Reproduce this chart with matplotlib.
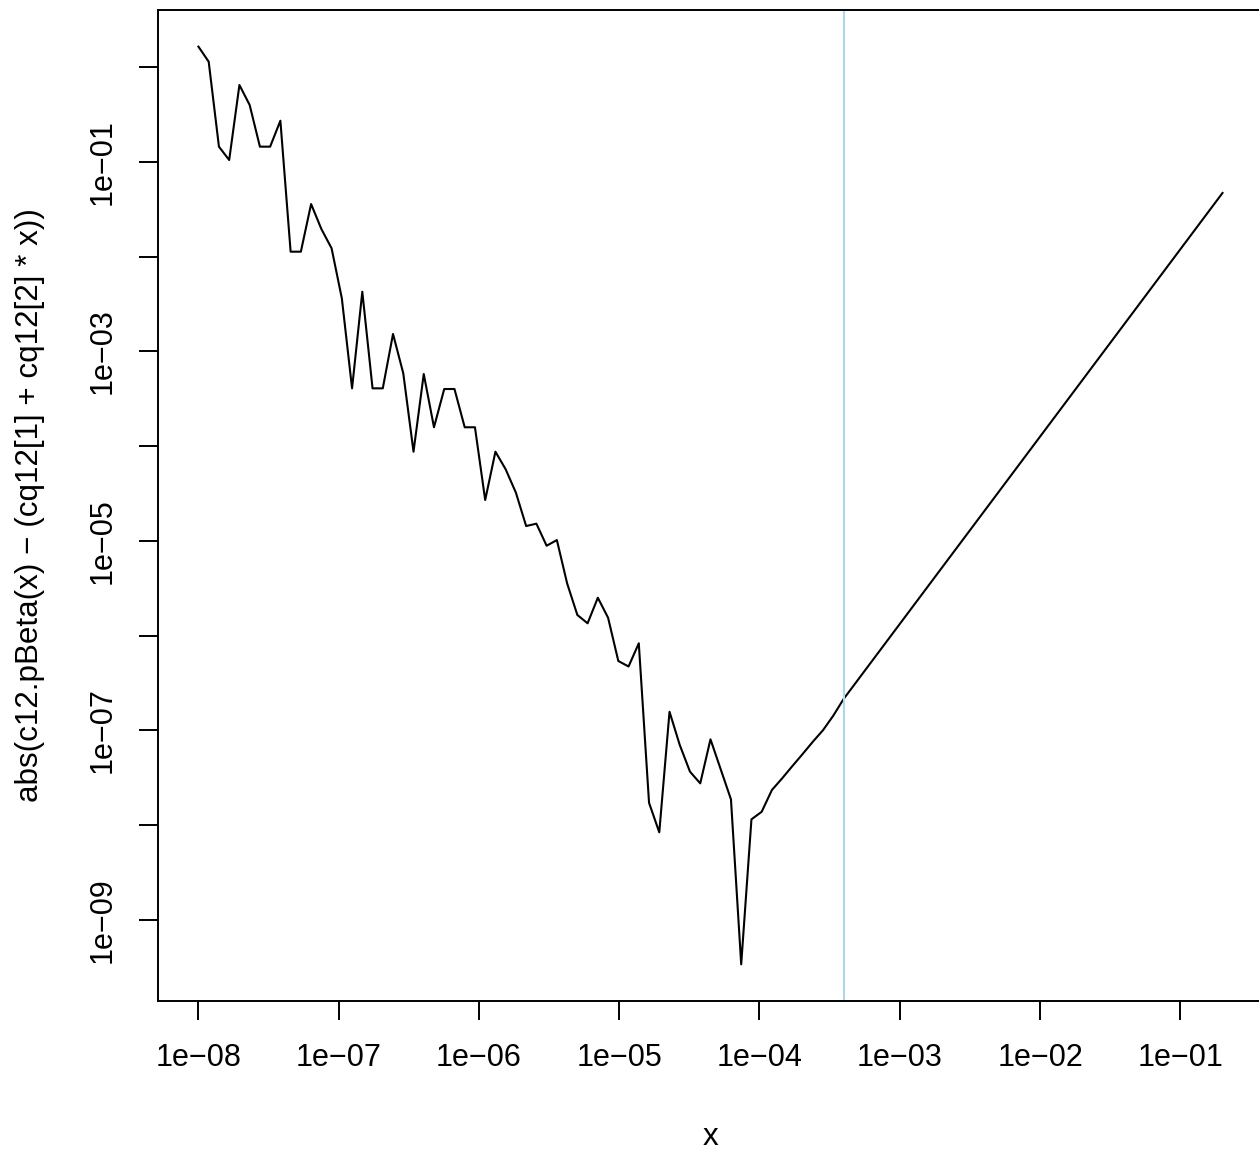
import matplotlib
matplotlib.use("Agg")
import matplotlib.pyplot as plt
import numpy as np

plt.rcParams['font.family'] = ['Liberation Sans', 'DejaVu Sans']

# x grid: 101 log-spaced evaluation points from 1e-8 to 0.2
x_grid = np.logspace(-8, np.log10(0.2), 101)

# log10 of the absolute error (points 0..63, then the last one;
# in between the curve is a straight line on the log-log plot)
log_err = [0.218, 0.059, -0.838, -0.979, -0.187, -0.398, -0.838, -0.838, -0.564, -1.947,
           -1.947, -1.444, -1.707, -1.911, -2.439, -3.390, -2.370, -3.390, -3.390, -2.816,
           -3.231, -4.059, -3.239, -3.801, -3.397, -3.397, -3.801, -3.801, -4.569, -4.059,
           -4.245, -4.492, -4.844, -4.819, -5.052, -4.992, -5.449, -5.783, -5.871, -5.601,
           -5.812, -6.269, -6.327, -6.082, -7.766, -8.078, -6.805, -7.156, -7.438, -7.561,
           -7.096, -7.413, -7.730, -9.472, -7.941, -7.861, -7.631, -7.508, -7.378, -7.251,
           -7.121, -6.998, -6.845, -6.670,
           -1.327]

x_vals = np.r_[x_grid[:64], x_grid[-1]]
err = 10.0 ** np.array(log_err)

x_cut = 4e-4  # vertical reference line

x_ticks = [10.0 ** k for k in range(-8, 0)]
x_ticklabels = ['1e\u2212%02d' % -k for k in range(-8, 0)]
y_ticks = [10.0 ** k for k in range(-9, 1)]
y_ticklabels = ['1e\u2212%02d' % -k if k % 2 else '' for k in range(-9, 1)]

W, H = 1259, 1152
fig = plt.figure(figsize=(W / 100, H / 100), dpi=100)
left, right, top, bottom = 157.5, 1265, 10, 1000.7
ax = fig.add_axes([left / W, 1 - bottom / H, (right - left) / W, (bottom - top) / H])

ax.plot(x_vals, err, color='black', lw=1.5)
ax.axvline(x_cut, color='lightblue', lw=1.5)

ax.set_xscale('log')
ax.set_yscale('log')
ax.set_xlim(10 ** -8.292, 10 ** -0.396)
ax.set_ylim(10 ** -9.856, 10 ** 0.605)

ax.set_xticks(x_ticks)
ax.set_xticklabels(x_ticklabels)
ax.set_yticks(y_ticks)
ax.set_yticklabels(y_ticklabels, rotation=90, va='center')
ax.minorticks_off()
ax.tick_params(direction='out', length=13.7, width=1.4, labelsize=22)
ax.tick_params(axis='x', pad=17)
ax.tick_params(axis='y', pad=15)
for s in ax.spines.values():
    s.set_linewidth(1.4)

fig.text(30 / W, 1 - 505 / H, 'abs(c12.pBeta(x) \u2212 (cq12[1] + cq12[2] * x))',
         rotation=90, ha='center', va='center', fontsize=22.6)
fig.text(711 / W, 1 - 1137 / H, 'x', ha='center', va='center', fontsize=22.6)

fig.savefig('out.png', dpi=100)
